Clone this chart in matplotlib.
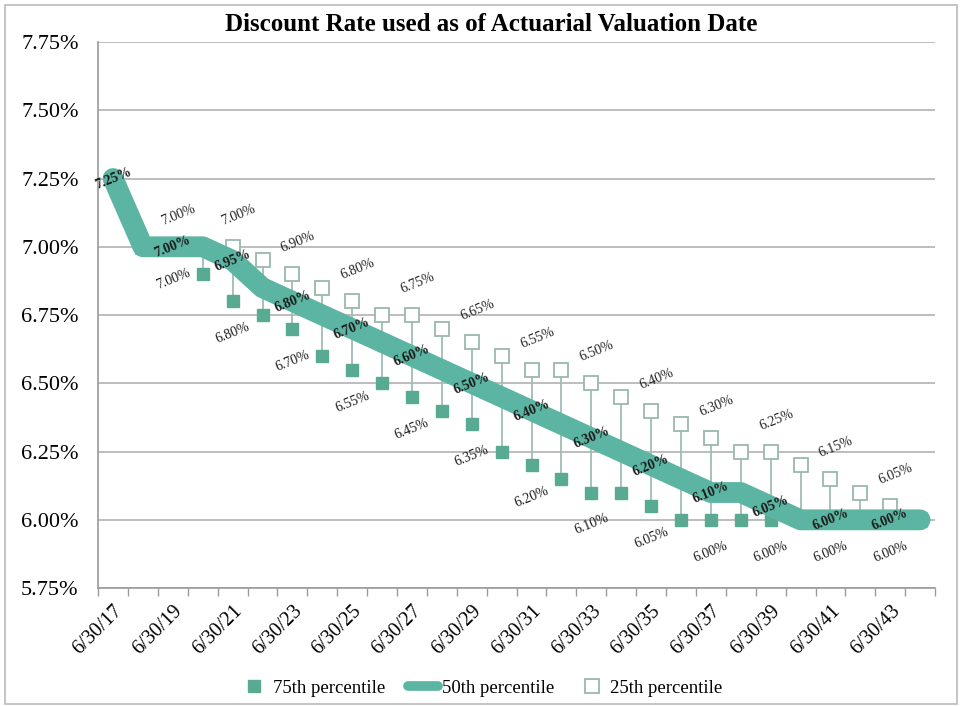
import matplotlib
matplotlib.use("Agg")
import matplotlib.pyplot as plt
import numpy as np
from matplotlib.patches import Rectangle

plt.rcParams['font.family'] = ['Liberation Serif', 'DejaVu Serif']

years = list(range(2017, 2045))
date_labels = [f"6/30/{y % 100:02d}" for y in years]

# discount rates (%) by valuation date
p50 = [7.25, 7.00, 7.00, 7.00, 6.95, 6.85, 6.80, 6.75, 6.70, 6.65,
       6.60, 6.55, 6.50, 6.45, 6.40, 6.35, 6.30, 6.25, 6.20, 6.15,
       6.10, 6.10, 6.05, 6.00, 6.00, 6.00, 6.00, 6.00]
p25 = [np.nan, 7.00, 7.00, 7.00, 7.00, 6.95, 6.90, 6.85, 6.80, 6.75,
       6.75, 6.70, 6.65, 6.60, 6.55, 6.55, 6.50, 6.45, 6.40, 6.35,
       6.30, 6.25, 6.25, 6.20, 6.15, 6.10, 6.05, 6.00]
p75 = [np.nan, 7.00, 7.00, 6.90, 6.80, 6.75, 6.70, 6.60, 6.55, 6.50,
       6.45, 6.40, 6.35, 6.25, 6.20, 6.15, 6.10, 6.10, 6.05, 6.00,
       6.00, 6.00, 6.00, 6.00, 6.00, 6.00, 6.00, 6.00]

line_color = "#5cb5a3"
fill_color = "#58aa93"
hollow_edge = "#98b8ae"
drop_color = "#9fbdb5"
grid_color = "#bdbdbd"

fig = plt.figure(figsize=(9.62, 7.06), dpi=100)
ax = fig.add_axes([0.102, 0.167, 0.870, 0.7735])

x = np.arange(len(years))
lo = np.array(p75, dtype=float)
hi = np.array(p25, dtype=float)
ok = ~np.isnan(lo)

# high-low lines between the 25th and 75th percentiles
ax.vlines(x[ok], lo[ok], hi[ok], color=drop_color, lw=1.3, zorder=2)

ax.plot(x, p75, ls="none", marker="s", ms=9, mfc=fill_color, mec=fill_color,
        zorder=3, label="75th percentile")
ax.plot(x, p25, ls="none", marker="s", ms=10, mfc="white", mec=hollow_edge,
        mew=1.3, zorder=3, label="25th percentile")
ax.plot(x, p50, color=line_color, lw=15, solid_capstyle="round",
        solid_joinstyle="round", zorder=4, label="50th percentile")

# value labels on odd years
for i, yr in enumerate(years):
    if yr % 2 == 0:
        continue
    ax.annotate(f"{p50[i]:.2f}%", (i, p50[i]), ha="center", va="center",
                fontsize=10, fontweight="bold", rotation=22, color="#1a1a1a",
                zorder=6)
    if not np.isnan(p25[i]):
        ax.annotate(f"{p25[i]:.2f}%", (i, p25[i]), xytext=(4, 23),
                    textcoords="offset points", ha="center", va="center",
                    fontsize=10, rotation=22, color="#222222", zorder=6)
    if not np.isnan(p75[i]):
        ax.annotate(f"{p75[i]:.2f}%", (i, p75[i]), xytext=(0, -23),
                    textcoords="offset points", ha="center", va="center",
                    fontsize=10, rotation=22, color="#1a1a1a", zorder=6)

ax.set_xlim(-0.5, len(years) - 0.5)
ax.set_ylim(5.75, 7.75)
yt = np.arange(5.75, 7.76, 0.25)
ax.set_yticks(yt)
ax.set_yticklabels([f"{v:.2f}%" for v in yt], fontsize=16)
ax.tick_params(axis="y", length=0, pad=14)
ax.grid(axis="y", color=grid_color, lw=1.4)
ax.set_axisbelow(True)

ax.set_xticks(x[::2])
ax.set_xticklabels(date_labels[::2], rotation=45, ha="right",
                   rotation_mode="anchor", fontsize=14.5)
ax.set_xticks(np.arange(-0.5, len(years), 1), minor=True)
ax.tick_params(axis="x", which="major", length=0, pad=10)
ax.tick_params(axis="x", which="minor", length=6, color="#9a9a9a", width=1)

for side in ["top", "right"]:
    ax.spines[side].set_visible(False)
ax.spines["left"].set_color("#9a9a9a")
ax.spines["bottom"].set_color("#9a9a9a")
ax.spines["left"].set_linewidth(1.2)
ax.spines["bottom"].set_linewidth(1.2)

fig.text(0.511, 0.965, "Discount Rate used as of Actuarial Valuation Date",
         ha="center", va="center", fontsize=18, fontweight="bold")

handles, labels = ax.get_legend_handles_labels()
order = [labels.index("75th percentile"), labels.index("50th percentile"),
         labels.index("25th percentile")]
leg = fig.legend([handles[k] for k in order], [labels[k] for k in order],
                 loc="center", bbox_to_anchor=(0.5, 0.025), ncol=3,
                 frameon=False, fontsize=13.5, handlelength=1.6,
                 columnspacing=1.2, handletextpad=0.2)
for h in leg.legend_handles:
    if hasattr(h, "get_linewidth") and h.get_linestyle() == "-":
        h.set_linewidth(7)

fig.patches.append(Rectangle((0.005, 0.003), 0.99, 0.99, transform=fig.transFigure,
                             fill=False, ec="#bbbbbb", lw=1.2))

fig.savefig("out.png", dpi=100, facecolor="white")
